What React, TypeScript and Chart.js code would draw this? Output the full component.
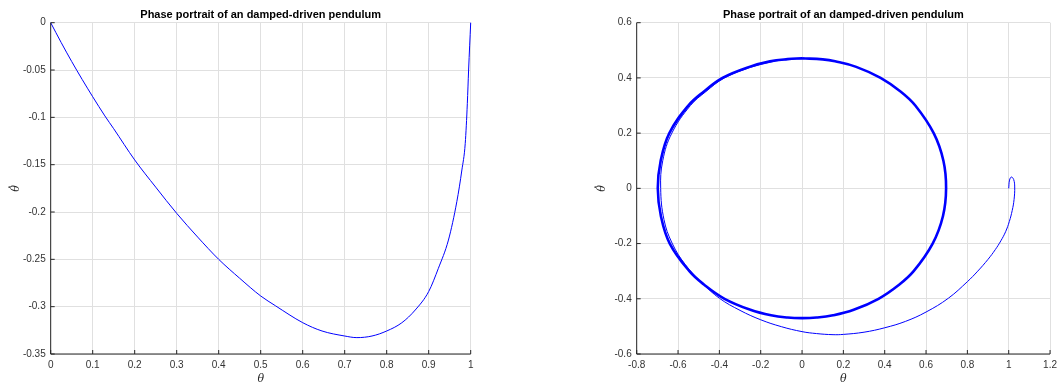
import React, { useEffect, useRef } from "react";
import { Chart, registerables } from "chart.js";

Chart.register(...registerables);

const TITLE = "Phase portrait of an damped-driven pendulum";
const X_LABEL = "θ";
const Y_LABEL = "θ";

// Left panel: single swing
const leftTheta = [0, 0.025, 0.05, 0.075, 0.1, 0.129, 0.15, 0.2, 0.25, 0.3, 0.35, 0.4, 0.45, 0.5, 0.535, 0.6, 0.646, 0.7, 0.729, 0.765, 0.8, 0.836, 0.868, 0.9, 0.923, 0.947, 0.967, 0.979, 0.987, 0.992, 0.995, 1.0];
const leftOmega = [0, -0.021, -0.041, -0.06, -0.0782, -0.0985, -0.112, -0.145, -0.1737, -0.2014, -0.2265, -0.25, -0.27, -0.2887, -0.299, -0.3169, -0.3257, -0.331, -0.3327, -0.331, -0.3257, -0.317, -0.3035, -0.284, -0.2595, -0.2296, -0.189, -0.1556, -0.1275, -0.0852, -0.05, 0];
const leftXTicks = [0, 0.1, 0.2, 0.3, 0.4, 0.5, 0.6, 0.7, 0.8, 0.9, 1];
const leftYTicks = [0, -0.05, -0.1, -0.15, -0.2, -0.25, -0.3, -0.35];

// Right panel: transient spiral (thin)
const transTheta = [1.0, 1.004, 1.013, 1.024, 1.029, 1.026, 1.017, 1.003, 0.985, 0.962, 0.935, 0.9, 0.85, 0.8, 0.708, 0.6, 0.5, 0.4, 0.3, 0.2, 0.15, 0.07, 0, -0.1, -0.2, -0.3, -0.4, -0.48, -0.565, -0.629, -0.668, -0.684, -0.674, -0.63, -0.54, -0.466, -0.375, -0.25, -0.15, -0.07, 0];
const transOmega = [0, 0.03, 0.041, 0.032, 0.005, -0.04, -0.08, -0.12, -0.157, -0.19, -0.222, -0.257, -0.3, -0.338, -0.398, -0.448, -0.482, -0.505, -0.521, -0.529, -0.53, -0.526, -0.519, -0.501, -0.476, -0.442, -0.398, -0.345, -0.276, -0.198, -0.113, 0, 0.1, 0.2, 0.3, 0.35, 0.4, 0.438, 0.458, 0.467, 0.47];

// Right panel: limit cycle (thick)
const cycleTheta = [0, 0.1, 0.16, 0.262, 0.38, 0.478, 0.548, 0.637, 0.684, 0.697, 0.682, 0.632, 0.54, 0.468, 0.37, 0.25, 0.15, 0.07, 0, -0.07, -0.15, -0.25, -0.375, -0.472, -0.545, -0.64, -0.683, -0.698, -0.684, -0.642, -0.55, -0.476, -0.385, -0.255, -0.155, -0.07, 0];
const cycleOmega = [0.471, 0.467, 0.46, 0.44, 0.4, 0.35, 0.3, 0.2, 0.1, 0, -0.1, -0.2, -0.3, -0.35, -0.4, -0.44, -0.46, -0.468, -0.47, -0.468, -0.46, -0.44, -0.4, -0.35, -0.3, -0.2, -0.1, 0, 0.1, 0.2, 0.3, 0.35, 0.4, 0.44, 0.46, 0.468, 0.471];

const rightXTicks = [-0.8, -0.6, -0.4, -0.2, 0, 0.2, 0.4, 0.6, 0.8, 1, 1.2];
const rightYTicks = [0.6, 0.4, 0.2, 0, -0.2, -0.4, -0.6];

const toPts = (xs: number[], ys: number[]) => xs.map((x, i) => ({ x, y: ys[i] }));

const FONT = "'Liberation Sans', Arial, Helvetica, sans-serif";
const AXIS_COLOR = "#262626";

const decorPlugin = {
  id: "matlabDecor",
  afterDraw(chart: any) {
    const { ctx, chartArea } = chart;
    const { left, right, top, bottom } = chartArea;
    const xs = chart.scales.x;
    const ys = chart.scales.y;
    ctx.save();
    ctx.strokeStyle = AXIS_COLOR;
    ctx.lineWidth = 1;
    ctx.beginPath();
    ctx.moveTo(left, top);
    ctx.lineTo(left, bottom);
    ctx.lineTo(right, bottom);
    ctx.stroke();
    ctx.beginPath();
    xs.ticks.forEach((t: any) => {
      const px = xs.getPixelForValue(t.value);
      ctx.moveTo(px, bottom);
      ctx.lineTo(px, bottom - 4);
    });
    ys.ticks.forEach((t: any) => {
      const py = ys.getPixelForValue(t.value);
      ctx.moveTo(left, py);
      ctx.lineTo(left + 4, py);
    });
    ctx.stroke();
    const cx = (left + right) / 2;
    ctx.fillStyle = "#000";
    ctx.font = `bold 11px ${FONT}`;
    ctx.textAlign = "center";
    ctx.textBaseline = "middle";
    ctx.fillText(TITLE, cx, 14.5);
    ctx.fillStyle = AXIS_COLOR;
    ctx.font = `italic 11px 'DejaVu Serif', serif`;
    ctx.fillText(X_LABEL, cx, 379);
    ctx.translate(left - 35, (top + bottom) / 2);
    ctx.rotate(-Math.PI / 2);
    ctx.fillText(Y_LABEL, 0, 0);
    ctx.beginPath();
    ctx.arc(1.2, -6.5, 0.8, 0, Math.PI * 2);
    ctx.fill();
    ctx.restore();
  },
};

function makeConfig(opts: any) {
  const { padLeft, padRight, yWidth, xMin, xMax, yMin, yMax, xTicks, yTicks, datasets } = opts;
  const tickFont = { family: FONT, size: 10 };
  return {
    type: "line",
    data: { datasets },
    options: {
      animation: false,
      responsive: false,
      maintainAspectRatio: false,
      layout: { padding: { left: padLeft, right: padRight, top: 22.7, bottom: 0 } },
      plugins: { legend: { display: false }, tooltip: { enabled: false }, title: { display: false } },
      elements: { point: { radius: 0 } },
      scales: {
        x: {
          type: "linear",
          min: xMin,
          max: xMax,
          afterBuildTicks: (s: any) => {
            s.ticks = xTicks.map((v: number) => ({ value: v }));
          },
          afterFit: (s: any) => {
            s.height = 30;
          },
          ticks: {
            autoSkip: false,
            maxRotation: 0,
            minRotation: 0,
            padding: 5,
            color: "#333",
            font: tickFont,
            callback: (v: any) => String(v),
          },
          grid: { color: "#e0e0e0", drawTicks: false, lineWidth: 1 },
          border: { display: false },
        },
        y: {
          type: "linear",
          min: yMin,
          max: yMax,
          afterBuildTicks: (s: any) => {
            s.ticks = yTicks.map((v: number) => ({ value: v }));
          },
          afterFit: (s: any) => {
            s.width = yWidth;
          },
          ticks: {
            autoSkip: false,
            padding: 5,
            color: "#333",
            font: tickFont,
            callback: (v: any) => String(v),
          },
          grid: { color: "#e0e0e0", drawTicks: false, lineWidth: 1 },
          border: { display: false },
        },
      },
    },
    plugins: [decorPlugin],
  };
}

function PanelCanvas({ config }: { config: any }) {
  const ref = useRef<HTMLCanvasElement | null>(null);
  useEffect(() => {
    if (!ref.current) return;
    const chart = new Chart(ref.current, config);
    return () => chart.destroy();
  }, []);
  return (
    <canvas
      ref={ref}
      width={1062}
      height={384}
      style={{ position: "absolute", left: 0, top: 0, width: 1062, height: 384 }}
    />
  );
}

export default function App() {
  const leftConfig = makeConfig({
    padLeft: 0,
    padRight: 1062 - 470.7,
    yWidth: 50.7,
    xMin: 0,
    xMax: 1,
    yMin: -0.35,
    yMax: 0,
    xTicks: leftXTicks,
    yTicks: leftYTicks,
    datasets: [
      {
        data: toPts(leftTheta, leftOmega),
        borderColor: "#0000ff",
        borderWidth: 1,
        cubicInterpolationMode: "monotone",
        clip: false,
      },
    ],
  });
  const rightConfig = makeConfig({
    padLeft: 636.7 - 50,
    padRight: 1062 - 1056.7,
    yWidth: 50,
    xMin: -0.8,
    xMax: 1.2,
    yMin: -0.6,
    yMax: 0.6,
    xTicks: rightXTicks,
    yTicks: rightYTicks,
    datasets: [
      {
        data: toPts(cycleTheta, cycleOmega),
        borderColor: "#0000ff",
        borderWidth: 2.6,
        tension: 0.4,
      },
      {
        data: toPts(transTheta, transOmega),
        borderColor: "#0000ff",
        borderWidth: 1,
        tension: 0.4,
      },
    ],
  });
  return (
    <div style={{ position: "fixed", left: 0, top: 0, width: 1062, height: 384, background: "#fff" }}>
      <PanelCanvas config={leftConfig} />
      <PanelCanvas config={rightConfig} />
    </div>
  );
}
